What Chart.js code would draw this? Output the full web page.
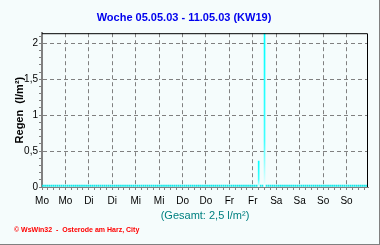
<!DOCTYPE html>
<html>
<head>
<meta charset="utf-8">
<script src="https://cdn.jsdelivr.net/npm/chart.js@4/dist/chart.umd.min.js"></script>
<style>
  html, body { margin: 0; padding: 0; background: #f5fcfc; }
  #wrap { position: relative; width: 380px; height: 245px; overflow: hidden; }
  #footer { position: absolute; left: 14px; top: 226px; font: bold 7px "Liberation Sans", Arial, sans-serif; color: #ff0000; white-space: pre; }
</style>
</head>
<body>
<div id="wrap">
  <canvas id="c" width="380" height="245"></canvas>
  <div id="footer">© WsWin32  -  Osterode am Harz, City</div>
</div>
<script>
// Week title and labels
const chartTitle = 'Woche 05.05.03 - 11.05.03 (KW19)';
const yAxisTitle = 'Regen  (l/m²)';
const totalLabel = '(Gesamt: 2,5 l/m²)';
// X tick labels every 12 hours
const dayLabels = ['Mo','Mo','Di','Di','Mi','Mi','Do','Do','Fr','Fr','Sa','Sa','So','So'];
// Y tick labels
const yTickValues = [0, 0.5, 1, 1.5, 2];
const yTickLabels = ['0', '0,5', '1', '1,5', '2'];
// Hourly rain (l/m²), one row per day Mo..So
const rainMo = [0,0,0,0,0,0,0,0,0,0,0,0,0,0,0,0,0,0,0,0,0,0,0,0];
const rainDi = [0,0,0,0,0,0,0,0,0,0,0,0,0,0,0,0,0,0,0,0,0,0,0,0];
const rainMi = [0,0,0,0,0,0,0,0,0,0,0,0,0,0,0,0,0,0,0,0,0,0,0,0];
const rainDo = [0,0,0,0,0,0,0,0,0,0,0,0,0,0,0,0,0,0,0,0,0,0,0,0];
const rainFr = [0,0,0,0,0,0,0,0,0,0,0,0,0,0,0,0.36,0,0,2.14,0,0,0,0,0];
const rainSa = [0,0,0,0,0,0,0,0,0,0,0,0,0,0,0,0,0,0,0,0,0,0,0,0];
const rainSo = [0,0,0,0,0,0,0,0,0,0,0,0,0,0,0,0,0,0,0,0,0,0,0,0];

const rain = [].concat(rainMo, rainDi, rainMi, rainDo, rainFr, rainSa, rainSo);
const points = rain.map((v, i) => ({ x: i, y: v }));

const GRAY = '#808080';
const CLEAR = 'rgba(0,0,0,0)';

const framePlugin = {
  id: 'frame',
  afterDatasetsDraw(chart) {
    const { ctx, chartArea: a } = chart;
    ctx.save();
    ctx.strokeStyle = '#000000';
    ctx.lineWidth = 1;
    ctx.beginPath();
    ctx.moveTo(a.left, a.top + 0.5);
    ctx.lineTo(a.right - 0.5, a.top + 0.5);
    ctx.lineTo(a.right - 0.5, a.bottom);
    ctx.stroke();
    ctx.strokeStyle = GRAY;
    ctx.beginPath();
    ctx.moveTo(379.5, 0);
    ctx.lineTo(379.5, 245);
    ctx.moveTo(0, 244.5);
    ctx.lineTo(380, 244.5);
    ctx.stroke();
    ctx.restore();
  }
};

new Chart(document.getElementById('c'), {
  type: 'bar',
  data: {
    datasets: [{
      data: points,
      barThickness: 1,
      minBarLength: 2,
      borderWidth: 0,
      backgroundColor(ctx) {
        const chart = ctx.chart;
        const ys = chart.scales.y;
        const v = ctx.raw ? ctx.raw.y : 0;
        if (!ys || !v) return '#10e8e8';
        const top = ys.getPixelForValue(v);
        const base = ys.getPixelForValue(0);
        if (!isFinite(top) || !isFinite(base) || base - top < 1) return '#10e8e8';
        const g = chart.ctx.createLinearGradient(0, top, 0, base);
        g.addColorStop(0, '#00ffff');
        g.addColorStop(0.7, '#40ffff');
        g.addColorStop(1, '#f0ffff');
        return g;
      }
    }]
  },
  options: {
    responsive: false,
    animation: false,
    layout: { padding: { left: 0, right: 12, top: 0, bottom: 0 } },
    plugins: {
      legend: { display: false },
      tooltip: { enabled: false },
      title: {
        display: true,
        text: chartTitle,
        color: '#0000ee',
        font: { family: 'Arial, "Liberation Sans", sans-serif', size: 11, weight: 'bold' },
        padding: { top: 11, bottom: 9 }
      }
    },
    scales: {
      x: {
        type: 'linear',
        min: 0,
        max: 167,
        offset: false,
        afterBuildTicks(scale) {
          const t = [];
          for (let h = 0; h <= 165; h += 3) t.push({ value: h });
          scale.ticks = t;
        },
        afterFit(scale) { scale.height = 58; },
        ticks: {
          autoSkip: false,
          maxRotation: 0,
          padding: 5,
          color: '#000000',
          font: { family: 'Arial, "Liberation Sans", sans-serif', size: 10 },
          callback(value) {
            return value % 12 === 0 ? dayLabels[value / 12] : '';
          }
        },
        grid: {
          offset: false,
          tickLength: 3,
          tickColor: GRAY,
          tickBorderDash: [],
          color(c) {
            return c.tick && c.tick.value % 12 === 0 && c.tick.value > 0 ? GRAY : CLEAR;
          }
        },
        border: { display: true, color: GRAY, width: 1, dash: [4, 3] },
        title: {
          display: true,
          text: totalLabel,
          color: '#008080',
          font: { family: 'Arial, "Liberation Sans", sans-serif', size: 11 },
          padding: { top: 0, bottom: 22 }
        }
      },
      y: {
        min: 0,
        max: 2.14,
        afterBuildTicks(scale) {
          const t = [];
          for (let k = 0; k <= 21; k++) t.push({ value: k / 10 });
          scale.ticks = t;
        },
        afterFit(scale) { scale.width = 42; },
        ticks: {
          autoSkip: false,
          padding: 1,
          color: '#000000',
          font: { family: 'Arial, "Liberation Sans", sans-serif', size: 10 },
          callback(value) {
            const i = yTickValues.findIndex(v => Math.abs(v - value) < 1e-6);
            return i >= 0 ? yTickLabels[i] : '';
          }
        },
        grid: {
          tickLength: 3,
          tickColor: GRAY,
          tickBorderDash: [],
          color(c) {
            if (!c.tick) return CLEAR;
            const v = c.tick.value;
            const major = yTickValues.some(x => Math.abs(x - v) < 1e-6);
            return major && v > 0 ? GRAY : CLEAR;
          }
        },
        border: { display: true, color: GRAY, width: 2, dash: [4, 3] },
        title: {
          display: true,
          text: yAxisTitle,
          color: '#000000',
          font: { family: 'Arial, "Liberation Sans", sans-serif', size: 11, weight: 'bold' },
          padding: { top: 13, bottom: 0 }
        }
      }
    }
  },
  plugins: [framePlugin]
});
</script>
</body>
</html>
